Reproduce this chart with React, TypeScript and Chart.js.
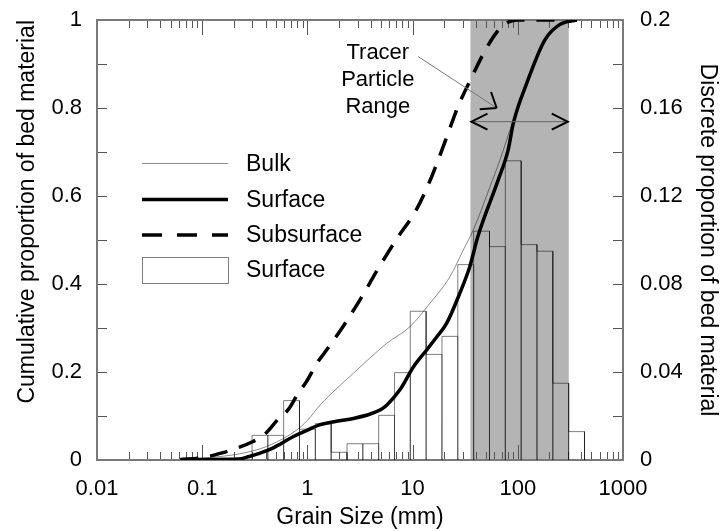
import React, { useEffect, useRef } from 'react';
import { Chart, registerables } from 'chart.js';

Chart.register(...registerables);

// ---------- data ----------
const xMajorTicks = [0.01, 0.1, 1, 10, 100, 1000];
const xMinorMultipliers = [2, 3, 4, 5, 6, 7, 8, 9];
const yLeftTickLabels = [0, 0.2, 0.4, 0.6, 0.8, 1];
const yRightTickLabels = [0, 0.04, 0.08, 0.12, 0.16, 0.2];

// half-phi bins (centre sizes, mm) and discrete surface proportions
const binCenters = [0.354, 0.5, 0.707, 1, 1.414, 2, 2.83, 4, 5.66, 8, 11.3, 16, 22.6, 32, 45.25, 64, 90.5, 128, 181, 256, 362];
const surfaceDiscrete = [0.0112, 0.0112, 0.027, 0.014, 0.0165, 0.0035, 0.0074, 0.0074, 0.0203, 0.0397, 0.0676, 0.048, 0.0562, 0.0888, 0.104, 0.097, 0.136, 0.0979, 0.0949, 0.0349, 0.0129];

const bulkSize = [0.07, 0.15, 0.285, 0.441, 0.79, 1.0, 1.32, 1.64, 2.73, 5.67, 9.44, 14.6, 22.7, 30.3, 37.8, 54.4, 67.7, 90.6, 121.5, 181, 252, 363];
const bulkCum = [0.002, 0.008, 0.019, 0.034, 0.068, 0.09, 0.125, 0.148, 0.197, 0.265, 0.303, 0.356, 0.417, 0.477, 0.523, 0.621, 0.682, 0.773, 0.858, 0.955, 0.99, 1.0];

const surfaceSize = [0.062, 0.1, 0.22, 0.28, 0.35, 0.44, 0.55, 0.73, 1.0, 1.3, 1.8, 2.8, 3.9, 5.0, 5.7, 7.6, 10.2, 13.6, 17, 21.1, 28.2, 35, 42, 65, 81, 90.6, 121.5, 181, 252, 363];
const surfaceCum = [0.0, 0.001, 0.002, 0.008, 0.015, 0.024, 0.036, 0.053, 0.068, 0.08, 0.087, 0.095, 0.104, 0.115, 0.125, 0.16, 0.212, 0.25, 0.28, 0.311, 0.38, 0.44, 0.51, 0.636, 0.705, 0.765, 0.856, 0.955, 0.99, 1.0];

const subSize = [0.062, 0.1, 0.148, 0.197, 0.304, 0.394, 0.528, 0.66, 0.82, 0.98, 1.23, 1.41, 2.12, 3.16, 4.63, 6.95, 10.8, 15, 20.3, 27.2, 36.5, 47, 63, 81, 100, 363];
const subCum = [0.001, 0.005, 0.015, 0.024, 0.042, 0.059, 0.093, 0.115, 0.152, 0.178, 0.22, 0.239, 0.299, 0.364, 0.432, 0.5, 0.568, 0.641, 0.723, 0.805, 0.87, 0.923, 0.972, 0.995, 1.0, 1.0];

const tracerRange = [35.5, 305];
const tracerArrowY = 0.769;
const pointerFrom = [11.3, 0.917];
const pointerTo = [63, 0.8];
const tracerTextAnchor = [4.67, 0.911];
const tracerLines = ['Tracer', 'Particle', 'Range'];

const legendLabels = ['Bulk', 'Surface', 'Subsurface', 'Surface'];

const FONT = '"Liberation Sans", Arial, Helvetica, sans-serif';

// ---------- helpers ----------
const pairs = (xs: number[], ys: number[]) => xs.map((x, i) => ({ x, y: ys[i] }));

const binFactor = Math.pow(2, 0.25);
const histogramOutline = () => {
  const pts: { x: number; y: number }[] = [];
  binCenters.forEach((c, i) => {
    const lo = c / binFactor;
    const hi = c * binFactor;
    const h = surfaceDiscrete[i];
    pts.push({ x: lo, y: 0 }, { x: lo, y: h }, { x: hi, y: h }, { x: hi, y: 0 });
  });
  return pts;
};

const xTicks = (() => {
  const t: number[] = [];
  xMajorTicks.forEach((m, i) => {
    t.push(m);
    if (i < xMajorTicks.length - 1) xMinorMultipliers.forEach((k) => t.push(m * k));
  });
  return t;
})();

const isMajorX = (v: number) => xMajorTicks.some((m) => Math.abs(v - m) / m < 1e-6);
const fmt = (v: number) => String(Number(v.toFixed(3)));

const decoPlugin = {
  id: 'deco',
  beforeDatasetsDraw(chart: any) {
    const { ctx, chartArea, scales } = chart;
    const { left, right, top, bottom } = chartArea;
    const x0 = scales.x.getPixelForValue(tracerRange[0]);
    const x1 = scales.x.getPixelForValue(tracerRange[1]);
    ctx.save();
    ctx.fillStyle = 'rgb(180,180,180)';
    ctx.fillRect(x0, top, x1 - x0, bottom - top);

    ctx.strokeStyle = '#555';
    ctx.lineWidth = 1;
    ctx.beginPath();
    xTicks.forEach((v) => {
      const px = Math.round(scales.x.getPixelForValue(v)) + 0.5;
      const len = isMajorX(v) ? 15 : 8;
      ctx.moveTo(px, bottom);
      ctx.lineTo(px, bottom - len);
      ctx.moveTo(px, top);
      ctx.lineTo(px, top + len);
    });
    scales.y.ticks.forEach((t: any) => {
      const py = Math.round(scales.y.getPixelForValue(t.value)) + 0.5;
      ctx.moveTo(left, py);
      ctx.lineTo(left + 10, py);
    });
    scales.y2.ticks.forEach((t: any) => {
      const py = Math.round(scales.y2.getPixelForValue(t.value)) + 0.5;
      ctx.moveTo(right, py);
      ctx.lineTo(right - 10, py);
    });
    ctx.stroke();
    ctx.strokeStyle = '#7a7a7a';
    ctx.lineWidth = 2;
    ctx.strokeRect(left, top, right - left, bottom - top);
    ctx.restore();
  },
  afterDraw(chart: any) {
    const { ctx, chartArea, scales } = chart;
    const { left, top } = chartArea;
    const X = (v: number) => scales.x.getPixelForValue(v);
    const Y = (v: number) => scales.y.getPixelForValue(v);
    ctx.save();
    // ---- legend ----
    const lx0 = left + 45, lx1 = left + 131;
    const rows = [top + 143.5, top + 179.5, top + 215, top + 250];
    ctx.strokeStyle = 'rgba(0,0,0,0.45)';
    ctx.lineWidth = 1;
    ctx.beginPath(); ctx.moveTo(lx0, rows[0]); ctx.lineTo(lx1, rows[0]); ctx.stroke();
    ctx.strokeStyle = '#000';
    ctx.lineWidth = 3.5;
    ctx.beginPath(); ctx.moveTo(lx0, rows[1]); ctx.lineTo(lx1, rows[1]); ctx.stroke();
    ctx.setLineDash([20, 15]);
    ctx.beginPath(); ctx.moveTo(lx0, rows[2]); ctx.lineTo(lx1, rows[2]); ctx.stroke();
    ctx.setLineDash([]);
    ctx.fillStyle = '#fff';
    ctx.fillRect(lx0, rows[3] - 13, lx1 - lx0, 26);
    ctx.strokeStyle = 'rgba(0,0,0,0.5)';
    ctx.lineWidth = 1;
    ctx.strokeRect(Math.round(lx0) + 0.5, Math.round(rows[3] - 13) + 0.5, Math.round(lx1 - lx0), 26);
    ctx.fillStyle = '#000';
    ctx.font = `23px ${FONT}`;
    ctx.textAlign = 'left';
    ctx.textBaseline = 'middle';
    legendLabels.forEach((t, i) => ctx.fillText(t, left + 149, rows[i] + 1));

    // ---- tracer annotation ----
    ctx.font = `22px ${FONT}`;
    ctx.textAlign = 'center';
    ctx.textBaseline = 'alphabetic';
    const tx = X(tracerTextAnchor[0]);
    const ty = Y(tracerTextAnchor[1]);
    tracerLines.forEach((t, i) => ctx.fillText(t, tx, ty + i * 26.7));

    // pointer
    const px0 = X(pointerFrom[0]), py0 = Y(pointerFrom[1]);
    const px1 = X(pointerTo[0]), py1 = Y(pointerTo[1]);
    ctx.strokeStyle = '#777';
    ctx.lineWidth = 1;
    ctx.beginPath(); ctx.moveTo(px0, py0); ctx.lineTo(px1, py1); ctx.stroke();
    const ang = Math.atan2(py0 - py1, px0 - px1);
    ctx.strokeStyle = '#000';
    ctx.lineWidth = 2;
    ctx.beginPath();
    [-0.65, 0.65].forEach((d) => {
      ctx.moveTo(px1, py1);
      ctx.lineTo(px1 + 17 * Math.cos(ang + d), py1 + 17 * Math.sin(ang + d));
    });
    ctx.stroke();

    // double arrow
    const ax0 = X(tracerRange[0]), ax1 = X(tracerRange[1]);
    const ay = Y(tracerArrowY);
    ctx.strokeStyle = '#666';
    ctx.lineWidth = 1;
    ctx.beginPath(); ctx.moveTo(ax0, ay); ctx.lineTo(ax1, ay); ctx.stroke();
    ctx.strokeStyle = '#000';
    ctx.lineWidth = 2;
    ctx.beginPath();
    ctx.moveTo(ax0 + 17, ay - 8); ctx.lineTo(ax0 + 1, ay); ctx.lineTo(ax0 + 17, ay + 8);
    ctx.moveTo(ax1 - 17, ay - 8); ctx.lineTo(ax1 - 1, ay); ctx.lineTo(ax1 - 17, ay + 8);
    ctx.stroke();
    ctx.restore();
  },
};

export default function App() {
  const canvasRef = useRef<HTMLCanvasElement | null>(null);

  useEffect(() => {
    if (!canvasRef.current) return;
    const tickFont = { family: FONT, size: 22 };
    const titleFont = { family: FONT, size: 23 };
    const chart = new Chart(canvasRef.current, {
      type: 'line',
      data: {
        datasets: [
          {
            label: 'Surface',
            data: pairs(surfaceSize, surfaceCum),
            yAxisID: 'y',
            borderColor: '#000',
            borderWidth: 3.5,
            pointRadius: 0,
            cubicInterpolationMode: 'monotone',
            borderJoinStyle: 'round',
            order: 1,
          },
          {
            label: 'Subsurface',
            data: pairs(subSize, subCum),
            yAxisID: 'y',
            borderColor: '#000',
            borderWidth: 3.5,
            borderDash: [18, 12],
            pointRadius: 0,
            cubicInterpolationMode: 'monotone',
            order: 2,
          },
          {
            label: 'Bulk',
            data: pairs(bulkSize, bulkCum),
            yAxisID: 'y',
            borderColor: 'rgba(0,0,0,0.45)',
            borderWidth: 1,
            pointRadius: 0,
            cubicInterpolationMode: 'monotone',
            order: 3,
          },
          {
            label: 'Surface (discrete)',
            data: histogramOutline(),
            yAxisID: 'y2',
            borderColor: 'rgba(0,0,0,0.5)',
            borderWidth: 1,
            pointRadius: 0,
            tension: 0,
            fill: false,
            order: 10,
          },
        ],
      },
      options: {
        animation: false,
        responsive: false,
        devicePixelRatio: 1,
        layout: { padding: { top: 20, left: 0, right: 0, bottom: 0 } },
        plugins: { legend: { display: false }, tooltip: { enabled: false } },
        scales: {
          x: {
            type: 'logarithmic',
            position: 'bottom',
            min: 0.01,
            max: 1000,
            afterBuildTicks: (s: any) => {
              s.ticks = xTicks.map((v) => ({ value: v, major: isMajorX(v) }));
            },
            afterFit: (s: any) => {
              s.height = 71;
              s.paddingLeft = 0;
              s.paddingRight = 0;
            },
            grid: { display: false, drawTicks: false },
            border: { display: false },
            ticks: {
              autoSkip: false,
              maxRotation: 0,
              padding: 16,
              color: '#000',
              font: tickFont,
              callback: (v: any) => (isMajorX(Number(v)) ? fmt(Number(v)) : ''),
            },
            title: {
              display: true,
              text: 'Grain Size (mm)',
              color: '#000',
              font: titleFont,
              padding: { top: 0, bottom: 0 },
            },
          },
          y: {
            type: 'linear',
            position: 'left',
            min: 0,
            max: 1,
            afterFit: (s: any) => {
              s.width = 97;
              s.paddingTop = 0;
              s.paddingBottom = 0;
            },
            grid: { display: false, drawTicks: false },
            border: { display: false },
            ticks: {
              stepSize: 0.1,
              autoSkip: false,
              padding: 15,
              color: '#000',
              font: tickFont,
              callback: (v: any) => {
                const n = Number(v);
                return yLeftTickLabels.some((t) => Math.abs(t - n) < 1e-6) ? fmt(n) : '';
              },
            },
            title: {
              display: true,
              text: 'Cumulative proportion of bed material',
              color: '#000',
              font: titleFont,
              align: 'end',
              padding: { top: 14, bottom: 0 },
            },
          },
          y2: {
            type: 'linear',
            position: 'right',
            min: 0,
            max: 0.2,
            afterFit: (s: any) => {
              s.width = 99;
              s.paddingTop = 0;
              s.paddingBottom = 0;
            },
            grid: { display: false, drawTicks: false },
            border: { display: false },
            ticks: {
              stepSize: 0.02,
              autoSkip: false,
              padding: 17,
              color: '#000',
              font: tickFont,
              callback: (v: any) => {
                const n = Number(v);
                return yRightTickLabels.some((t) => Math.abs(t - n) < 1e-6) ? fmt(n) : '';
              },
            },
            title: {
              display: true,
              text: 'Discrete proportion of bed material',
              color: '#000',
              font: titleFont,
              padding: { top: 1, bottom: 0 },
            },
          },
        },
      } as any,
      plugins: [decoPlugin],
    });
    return () => chart.destroy();
  }, []);

  return (
    <div style={{ position: 'absolute', left: 0, top: 0, width: 722, height: 531, background: '#fff' }}>
      <canvas ref={canvasRef} width={722} height={531} style={{ display: 'block' }} />
    </div>
  );
}
